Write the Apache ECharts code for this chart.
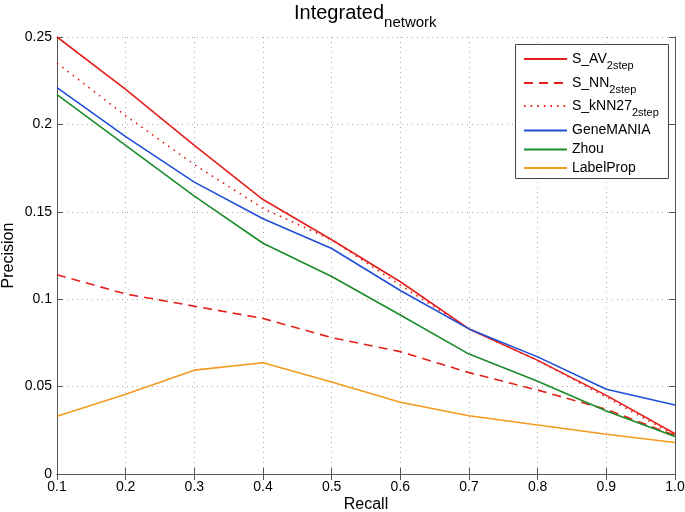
<!DOCTYPE html>
<html>
<head>
<meta charset="utf-8">
<script src="https://cdn.jsdelivr.net/npm/echarts@6/dist/echarts.min.js"></script>
<style>
html,body{margin:0;padding:0;background:#fff;}
#chart{width:685px;height:512px;}
</style>
</head>
<body>
<div id="chart"></div>
<script>
const recall = [0.1, 0.2, 0.3, 0.4, 0.5, 0.6, 0.7, 0.8, 0.9, 1.0];
const sAV2step = [0.250, 0.220, 0.188, 0.157, 0.134, 0.110, 0.083, 0.065, 0.045, 0.023];
const sNN2step = [0.114, 0.103, 0.096, 0.089, 0.078, 0.070, 0.058, 0.048, 0.037, 0.022];
const sKNN27_2step = [0.235, 0.205, 0.177, 0.152, 0.134, 0.108, 0.083, 0.065, 0.044, 0.022];
const geneMANIA = [0.221, 0.193, 0.167, 0.146, 0.129, 0.105, 0.083, 0.067, 0.0485, 0.0395];
const zhou = [0.217, 0.188, 0.159, 0.132, 0.113, 0.091, 0.0686, 0.053, 0.036, 0.0214];
const labelProp = [0.033, 0.0456, 0.0594, 0.0636, 0.0526, 0.041, 0.0333, 0.028, 0.0227, 0.018];

const seriesNames = ['S_AV_2step', 'S_NN_2step', 'S_kNN27_2step', 'GeneMANIA', 'Zhou', 'LabelProp'];
const legendLabels = {
  'S_AV_2step': ['S_AV', '2step'],
  'S_NN_2step': ['S_NN', '2step'],
  'S_kNN27_2step': ['S_kNN27', '2step'],
  'GeneMANIA': ['GeneMANIA', ''],
  'Zhou': ['Zhou', ''],
  'LabelProp': ['LabelProp', '']
};
const xTicks = ['0.1','0.2','0.3','0.4','0.5','0.6','0.7','0.8','0.9','1.0'];

const FONT = 'Liberation Sans, Arial, Helvetica, sans-serif';
const RED = '#e3201b', BLUE = '#1f4fd6', GREEN = '#1b8c2a', ORANGE = '#f39a1f';

function pairs(vals){ return recall.map((r,i)=>[r, vals[i]]); }

const chart = echarts.init(document.getElementById('chart'));

function mkLine(name, vals, color, type){
  return {
    name: name, type: 'line', data: pairs(vals), symbol: 'none',
    xAxisIndex: 0, yAxisIndex: 0,
    lineStyle: {color: color, width: 1.6, type: type},
    itemStyle: {color: color},
    animation: false, z: 2
  };
}

const legendRich = {
  a: {fontSize: 14, fontFamily: FONT, color: '#000', verticalAlign: 'middle'},
  s: {fontSize: 11, fontFamily: FONT, color: '#000', verticalAlign: 'middle', padding: [13,0,0,0]}
};
const legendCenters = [58, 82, 105, 129, 148, 166.5];
const legends = seriesNames.map((n, i) => {
  const hasSub = legendLabels[n][1] !== '';
  return {
    data: [n],
    left: 523, top: legendCenters[i] - (hasSub ? 6 : 5.5),
    padding: 0, itemWidth: 43, itemHeight: 14, itemGap: 4,
    orient: 'vertical', z: 20,
    itemStyle: {opacity: 0},
    formatter: function(name){
      const p = legendLabels[name];
      return p[1] ? '{a|' + p[0] + '}{s|' + p[1] + '}' : '{a|' + p[0] + '}';
    },
    textStyle: {rich: legendRich, fontSize: 14, fontFamily: FONT, color: '#000'},
    selectedMode: false
  };
});

const option = {
  backgroundColor: '#fff',
  animation: false,
  title: {
    text: '{a|Integrated}{s|network}',
    left: 289, top: -2,
    textStyle: {
      fontWeight: 'normal',
      rich: {
        a: {fontSize: 20, fontFamily: FONT, fontWeight: 'normal', color: '#000', verticalAlign: 'top', lineHeight: 22},
        s: {fontSize: 15, fontFamily: FONT, fontWeight: 'normal', color: '#000', verticalAlign: 'top', padding: [12,0,0,0]}
      }
    }
  },
  grid: {left: 57, right: 10, top: 37, bottom: 38, containLabel: false, outerBoundsMode: 'none'},
  legend: legends,
  graphic: [{
    type: 'rect', shape: {x: 515.5, y: 44.5, width: 153, height: 134},
    style: {fill: '#fff', stroke: '#444', lineWidth: 1}, z: 10, silent: true
  }],
  xAxis: [{
    type: 'value', min: 0.1, max: 1.0, interval: 0.1,
    name: 'Recall', nameLocation: 'middle', nameGap: 23, nameMoveOverlap: false,
    nameTextStyle: {fontSize: 16, fontFamily: FONT, color: '#000'},
    axisLine: {show: true, lineStyle: {color: '#555', width: 1}},
    axisTick: {show: true, inside: true, length: 6, lineStyle: {color: '#555'}},
    axisLabel: {fontSize: 14, fontFamily: FONT, color: '#000', margin: 6,
      formatter: function(v){ return xTicks[Math.round(v*10) - 1]; }},
    splitLine: {show: true, lineStyle: {color: '#aaa', type: [1, 4], width: 1}}
  }, {
    type: 'value', position: 'top', min: 0.1, max: 1.0, interval: 0.1,
    axisLine: {show: true, lineStyle: {color: '#555', width: 1}},
    axisTick: {show: true, inside: true, length: 6, lineStyle: {color: '#555'}},
    axisLabel: {show: false}, splitLine: {show: false}
  }],
  yAxis: [{
    type: 'value', min: 0, max: 0.25, interval: 0.05,
    name: 'Precision', nameLocation: 'middle', nameGap: 40, nameRotate: 90, nameMoveOverlap: false,
    nameTextStyle: {fontSize: 16, fontFamily: FONT, color: '#000'},
    axisLine: {show: true, lineStyle: {color: '#555', width: 1}},
    axisTick: {show: true, inside: true, length: 6, lineStyle: {color: '#555'}},
    axisLabel: {fontSize: 14, fontFamily: FONT, color: '#000', margin: 5,
      formatter: function(v){ return String(+v.toFixed(2)); }},
    splitLine: {show: true, lineStyle: {color: '#aaa', type: [1, 4], width: 1}}
  }, {
    type: 'value', position: 'right', min: 0, max: 0.25, interval: 0.05,
    axisLine: {show: true, lineStyle: {color: '#555', width: 1}},
    axisTick: {show: true, inside: true, length: 6, lineStyle: {color: '#555'}},
    axisLabel: {show: false}, splitLine: {show: false}
  }],
  series: [
    mkLine('S_AV_2step', sAV2step, RED, 'solid'),
    mkLine('S_NN_2step', sNN2step, RED, [9, 6]),
    mkLine('S_kNN27_2step', sKNN27_2step, RED, [1.6, 5]),
    mkLine('GeneMANIA', geneMANIA, BLUE, 'solid'),
    mkLine('Zhou', zhou, GREEN, 'solid'),
    mkLine('LabelProp', labelProp, ORANGE, 'solid')
  ]
};
chart.setOption(option);
</script>
</body>
</html>
